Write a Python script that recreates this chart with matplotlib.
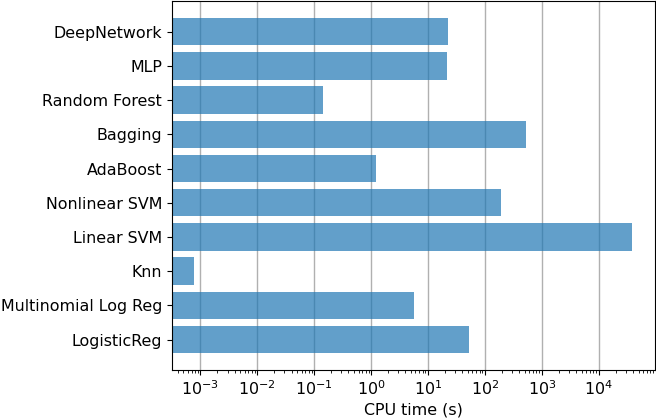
import matplotlib
matplotlib.use("Agg")
import matplotlib.pyplot as plt

models = ["LogisticReg", "Multinomial Log Reg", "Knn", "Linear SVM", "Nonlinear SVM",
          "AdaBoost", "Bagging", "Random Forest", "MLP", "DeepNetwork"]
cpu_time = [52.4, 5.7, 7.7e-4, 38500, 194, 1.24, 524, 0.144, 21.9, 22.4]

plt.rcParams['font.size'] = 11.4

fig, ax = plt.subplots(figsize=(6.56, 4.2), dpi=100)
ax.barh(models, cpu_time, height=0.8, color="C0", alpha=0.7)
ax.set_xscale("log")
ax.set_xlim(10**-3.5, 10**4.98)
ax.set_xlabel("CPU time (s)", labelpad=3)
ax.grid(axis="x", color="#b0b0b0", linewidth=1)
ax.set_axisbelow(True)

plt.subplots_adjust(left=0.262, right=0.998, top=0.997, bottom=0.119)
plt.savefig("out.png")
